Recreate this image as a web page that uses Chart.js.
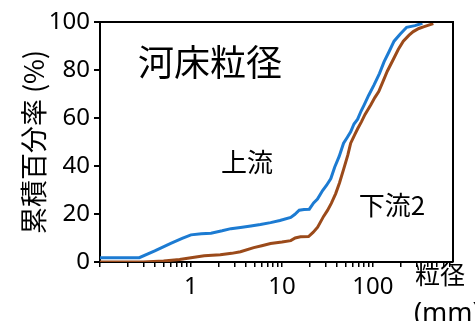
<!DOCTYPE html>
<html>
<head>
<meta charset="utf-8">
<script src="https://cdn.jsdelivr.net/npm/chart.js@4"></script>
<style>
  html, body { margin: 0; padding: 0; background: #fff; }
  #wrap { width: 475px; height: 321px; }
</style>
</head>
<body>
<div id="wrap"><canvas id="c" width="475" height="321"></canvas></div>
<script>
// Grain-size distribution: cumulative passing percentage vs grain size (mm)
const upstreamSize = [0.1, 0.27, 0.4, 0.6, 0.8, 1.0, 1.3, 1.66, 2.2, 2.75, 3.5, 4.55, 5.8, 7.5, 9.5, 12.5, 13.8, 15.5, 17.5, 20, 22.3, 24.6, 28, 31, 34.5, 38, 42.6, 47.6, 52, 57, 62, 68, 74, 80, 90, 103, 118, 133, 150, 171, 200, 235, 290, 350];
const upstreamPct  = [1.8, 1.8, 4.6, 7.8, 9.8, 11.3, 11.8, 12.0, 13.0, 13.9, 14.4, 15.0, 15.6, 16.4, 17.3, 18.6, 19.8, 21.6, 21.9, 22.0, 24.6, 26.2, 29.8, 32.0, 34.8, 39.5, 44.0, 49.5, 51.8, 54.2, 57.5, 59.5, 62.8, 65.4, 69.5, 73.8, 78.5, 83.5, 87.5, 92.0, 95.0, 97.8, 98.5, 99.5];

const downstreamSize = [0.1, 0.3, 0.5, 0.75, 1.0, 1.4, 2.1, 2.8, 3.5, 4.9, 6.0, 7.5, 10, 12.5, 14, 16, 19.6, 22, 24.7, 28.7, 31.7, 35, 39, 43, 48, 53, 57, 63, 68, 75, 82, 95, 105, 116, 130, 144, 168, 190, 216, 250, 278, 320, 360, 410, 462];
const downstreamPct  = [0, 0, 0.4, 1.0, 1.8, 2.6, 3.0, 3.6, 4.3, 6.0, 6.8, 7.7, 8.3, 8.9, 10.0, 10.5, 10.6, 12.3, 14.5, 19.0, 21.5, 24.5, 28.5, 33, 39, 44.5, 49.5, 53, 55.5, 58.5, 61.5, 65.5, 68.5, 71, 75.5, 79.5, 84.5, 88.5, 92, 94.5, 96, 97.3, 98, 98.7, 99.3];

const seriesNames = ['上流', '下流2'];
const xLabeled = [1, 10, 100];
const yLabeled = [0, 20, 40, 60, 80, 100];

const CJK = "'Noto Sans CJK JP', 'Noto Sans', sans-serif";
const NUM = "'Noto Sans', 'Noto Sans CJK JP', sans-serif";

function pairs(xs, ys) { return xs.map((x, i) => ({ x: x, y: ys[i] })); }

// Text placed inside/around the plot area
const notes = {
  id: 'notes',
  afterDraw(chart) {
    const ctx = chart.ctx;
    const a = chart.chartArea;
    ctx.save();
    // frame on top and right
    ctx.strokeStyle = '#000';
    ctx.lineWidth = 2;
    ctx.beginPath();
    ctx.moveTo(a.left, a.top);
    ctx.lineTo(a.right, a.top);
    ctx.lineTo(a.right, a.bottom);
    ctx.stroke();

    ctx.fillStyle = '#000';
    ctx.textAlign = 'center';
    ctx.textBaseline = 'middle';
    ctx.font = '36px ' + CJK;
    ctx.fillText('河床粒径', 210, 62);
    ctx.font = '26px ' + CJK;
    ctx.fillText(seriesNames[0], 247, 162);
    ctx.fillText(seriesNames[1], 392, 205);
    ctx.font = '25px ' + CJK;
    ctx.textAlign = 'left';
    ctx.fillText('粒径', 415, 274);
    ctx.font = '27px ' + NUM;
    ctx.fillText('(mm)', 414, 314);
    ctx.restore();
  }
};

new Chart(document.getElementById('c'), {
  type: 'line',
  data: {
    datasets: [
      {
        label: seriesNames[0],
        data: pairs(upstreamSize, upstreamPct),
        borderColor: '#1c7bd2',
        borderWidth: 3,
        pointRadius: 0,
        tension: 0
      },
      {
        label: seriesNames[1],
        data: pairs(downstreamSize, downstreamPct),
        borderColor: '#9b4a1a',
        borderWidth: 3,
        pointRadius: 0,
        tension: 0
      }
    ]
  },
  options: {
    responsive: false,
    animation: false,
    events: [],
    layout: { padding: { top: 22, right: 22, left: 0, bottom: 0 } },
    plugins: { legend: { display: false }, tooltip: { enabled: false } },
    scales: {
      x: {
        type: 'logarithmic',
        min: 0.1,
        max: 760,
        afterBuildTicks(scale) {
          const t = [];
          for (let e = -1; e <= 2; e++) {
            for (let m = 1; m <= 9; m++) {
              const v = m * Math.pow(10, e);
              if (v >= 0.1 && v <= 760) t.push({ value: v });
            }
          }
          scale.ticks = t;
        },
        afterFit(scale) { scale.height = 59; },
        ticks: {
          autoSkip: false,
          maxRotation: 0,
          padding: 6,
          color: '#000',
          font: { family: NUM, size: 24 },
          callback(v) {
            const hit = xLabeled.find(x => Math.abs(x - v) / x < 1e-6);
            return hit !== undefined ? String(hit) : '';
          }
        },
        grid: { drawOnChartArea: false, color: '#000', tickLength: 5, lineWidth: 1.5 },
        border: { color: '#000', width: 2 }
      },
      y: {
        min: 0,
        max: 100,
        afterFit(scale) { scale.width = 100; },
        ticks: {
          stepSize: 10,
          padding: 4,
          color: '#000',
          font: { family: NUM, size: 24 },
          callback(v) { return yLabeled.includes(v) ? String(v) : ''; }
        },
        grid: { drawOnChartArea: false, color: '#000', tickLength: 6, lineWidth: 2 },
        border: { color: '#000', width: 2 },
        title: {
          display: true,
          text: '累積百分率 (%)',
          color: '#000',
          font: { family: CJK, size: 27 },
          padding: { top: 18, bottom: 0 }
        }
      }
    }
  },
  plugins: [notes]
});
</script>
</body>
</html>
